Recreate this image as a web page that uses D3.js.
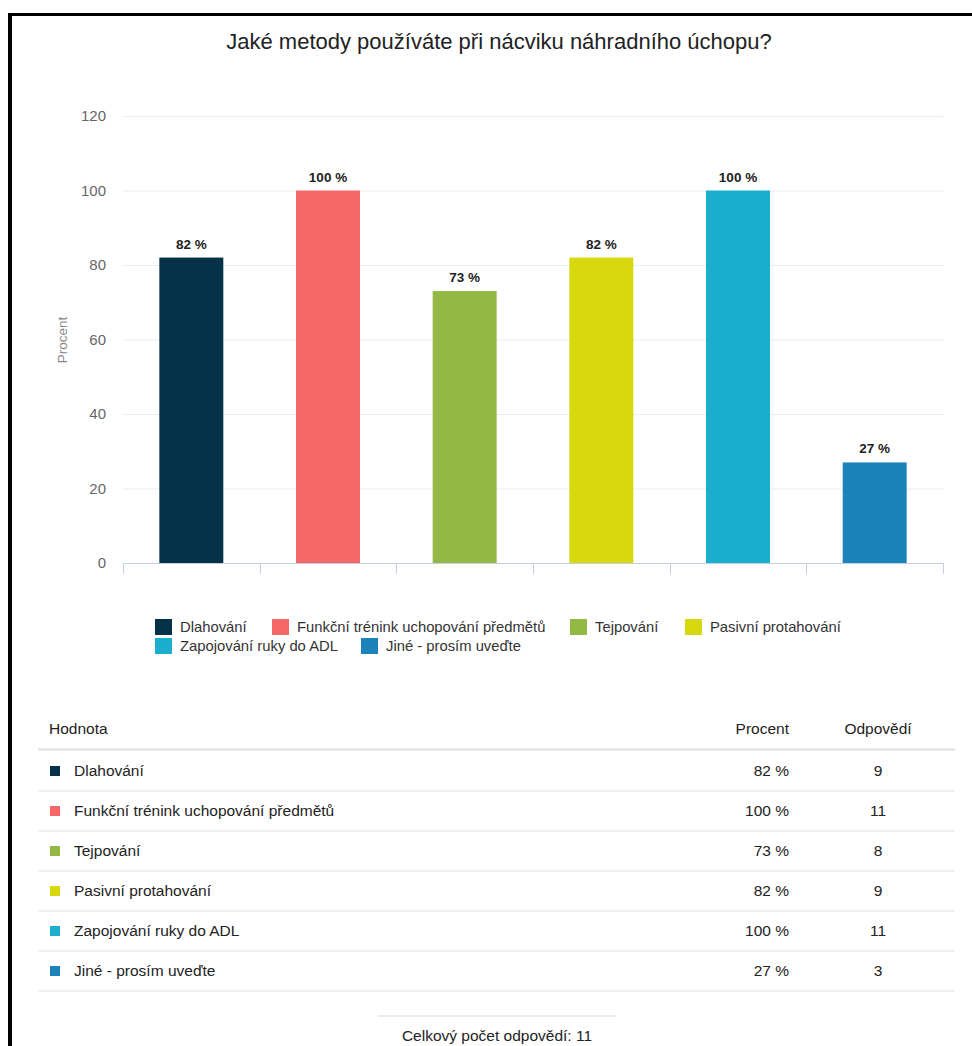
<!DOCTYPE html>
<html>
<head>
<meta charset="utf-8">
<script src="https://cdn.jsdelivr.net/npm/d3@7"></script>
<style>
  html, body { margin: 0; padding: 0; background: #fff; }
  svg { display: block; font-family: "Liberation Sans", Arial, sans-serif; }
</style>
</head>
<body>
<svg id="chart" width="972" height="1046"></svg>
<script>
// Survey question and answers
const title = "Jaké metody používáte při nácviku náhradního úchopu?";
const categories = [
  "Dlahování",
  "Funkční trénink uchopování předmětů",
  "Tejpování",
  "Pasivní protahování",
  "Zapojování ruky do ADL",
  "Jiné - prosím uveďte"
];
const percents = [82, 100, 73, 82, 100, 27];
const counts = [9, 11, 8, 9, 11, 3];
const totalResponses = 11;
const colors = ["#053248", "#f76767", "#93b843", "#d8d80f", "#1caece", "#1b82ba"];
const yTicks = [0, 20, 40, 60, 80, 100, 120];

const svg = d3.select("#chart");
const data = categories.map((c, i) => ({ name: c, pct: percents[i], count: counts[i], color: colors[i] }));

// Frame lines (top and left)
svg.append("rect").attr("x", 8).attr("y", 13).attr("width", 964).attr("height", 3).attr("fill", "#000");
svg.append("rect").attr("x", 8).attr("y", 13).attr("width", 4).attr("height", 1033).attr("fill", "#000");

// Title
svg.append("text")
  .attr("x", 499).attr("y", 49)
  .attr("text-anchor", "middle")
  .attr("font-size", 22).attr("fill", "#222")
  .text(title);

// Plot area
const plot = { left: 123, right: 943, top: 116, bottom: 563 };
const x = d3.scaleBand().domain(categories).range([plot.left, plot.right]).paddingInner(0.532).paddingOuter(0.266);
const xb = d3.scaleBand().domain(categories).range([plot.left, plot.right]).padding(0);
const y = d3.scaleLinear().domain([0, 120]).range([plot.bottom, plot.top]);

// Gridlines and y labels
const yAxis = d3.axisLeft(y).tickValues(yTicks).tickSize(-(plot.right - plot.left)).tickPadding(17);
const gy = svg.append("g").attr("transform", `translate(${plot.left},0)`).call(yAxis);
gy.select(".domain").remove();
gy.selectAll(".tick line").attr("stroke", "#ececec").attr("stroke-width", 1)
  .filter(d => d === 0).remove();
gy.selectAll(".tick text").attr("font-size", 15).attr("fill", "#666")
  .attr("font-family", "'Liberation Sans', Arial, sans-serif");

// Y axis title
svg.append("text")
  .attr("transform", `translate(67,340) rotate(-90)`)
  .attr("text-anchor", "middle")
  .attr("font-size", 13.5).attr("fill", "#888")
  .text("Procent");

// Bars
svg.append("g").selectAll("rect").data(data).join("rect")
  .attr("x", d => x(d.name))
  .attr("y", d => y(d.pct))
  .attr("width", x.bandwidth())
  .attr("height", d => y(0) - y(d.pct))
  .attr("fill", d => d.color);

// X axis line with category boundary ticks
const gx = svg.append("g").attr("transform", `translate(0,${plot.bottom})`);
gx.append("line").attr("x1", plot.left).attr("x2", plot.right).attr("y1", 0.5).attr("y2", 0.5)
  .attr("stroke", "#c0d0e0").attr("stroke-width", 1);
const boundaries = categories.map(c => xb(c)).concat([plot.right]);
gx.selectAll("line.tick").data(boundaries).join("line")
  .attr("class", "tick")
  .attr("x1", d => Math.round(d) + 0.5).attr("x2", d => Math.round(d) + 0.5)
  .attr("y1", 0).attr("y2", 11)
  .attr("stroke", "#c0d0e0").attr("stroke-width", 1);

// Value labels
svg.append("g").selectAll("text").data(data).join("text")
  .attr("x", d => x(d.name) + x.bandwidth() / 2)
  .attr("y", d => y(d.pct) - 9)
  .attr("text-anchor", "middle")
  .attr("font-size", 13.5).attr("font-weight", "bold").attr("fill", "#222")
  .text(d => d.pct + " %");

// Legend
const legendPos = [
  [155, 627], [272, 627], [570, 627], [685, 627],
  [155, 646], [361, 646]
];
const lg = svg.append("g").selectAll("g").data(data).join("g")
  .attr("transform", (d, i) => `translate(${legendPos[i][0]},${legendPos[i][1]})`);
lg.append("rect").attr("x", 0).attr("y", -8).attr("width", 17).attr("height", 16).attr("fill", d => d.color);
lg.append("text").attr("x", 25).attr("y", 5).attr("font-size", 14.8).attr("fill", "#333").text(d => d.name);

// Table
const tbl = { left: 38, right: 955, headerY: 734, rowStart: 776, rowH: 40 };
const tfs = 15.5;
svg.append("text").attr("x", 49).attr("y", tbl.headerY).attr("font-size", tfs).attr("fill", "#222").text("Hodnota");
svg.append("text").attr("x", 789).attr("y", tbl.headerY).attr("text-anchor", "end").attr("font-size", tfs).attr("fill", "#222").text("Procent");
svg.append("text").attr("x", 878).attr("y", tbl.headerY).attr("text-anchor", "middle").attr("font-size", tfs).attr("fill", "#222").text("Odpovědí");
svg.append("rect").attr("x", tbl.left).attr("y", 748).attr("width", tbl.right - tbl.left).attr("height", 3).attr("fill", "#e8e8e8");

const rows = svg.append("g").selectAll("g").data(data).join("g")
  .attr("transform", (d, i) => `translate(0,${tbl.rowStart + i * tbl.rowH})`);
rows.append("rect").attr("x", 50).attr("y", -10).attr("width", 10).attr("height", 10).attr("fill", d => d.color);
rows.append("text").attr("x", 74).attr("y", 0).attr("font-size", tfs).attr("fill", "#222").text(d => d.name);
rows.append("text").attr("x", 789).attr("y", 0).attr("text-anchor", "end").attr("font-size", tfs).attr("fill", "#222").text(d => d.pct + " %");
rows.append("text").attr("x", 878).attr("y", 0).attr("text-anchor", "middle").attr("font-size", tfs).attr("fill", "#222").text(d => d.count);
rows.append("rect").attr("x", tbl.left).attr("y", 14).attr("width", tbl.right - tbl.left).attr("height", 2).attr("fill", "#efefef");

// Footer
svg.append("rect").attr("x", 378).attr("y", 1015).attr("width", 238).attr("height", 2).attr("fill", "#ececec");
svg.append("text").attr("x", 497).attr("y", 1041).attr("text-anchor", "middle").attr("font-size", tfs).attr("fill", "#222")
  .text("Celkový počet odpovědí: " + totalResponses);
</script>
</body>
</html>
